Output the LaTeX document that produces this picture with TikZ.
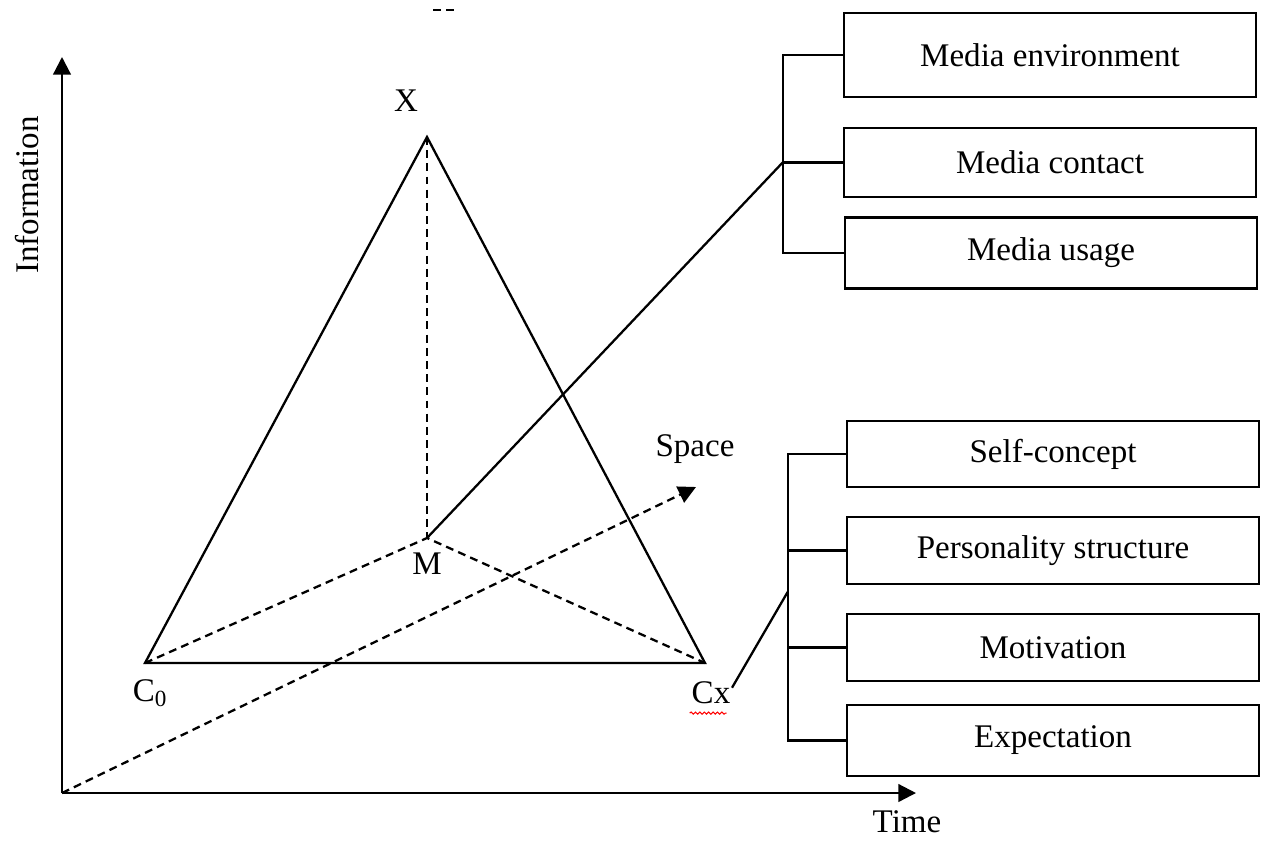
\documentclass[tikz,border=0pt]{standalone}
\usepackage{fontspec}
\setmainfont{Liberation Serif}
\usetikzlibrary{arrows.meta,decorations.pathmorphing}

\begin{document}
\begin{tikzpicture}[x=0.02cm, y=-0.02cm, line width=1.3pt,
    font=\fontsize{18.8}{22}\selectfont,
    box/.style={draw, minimum width=8.25cm, inner sep=0pt},
    axis/.style={-{Triangle[length=10pt,width=10pt]}},
    hidden/.style={dash pattern=on 4.5pt off 3pt}]
    \useasboundingbox (0,0) rectangle (1265,840);

    % Axes
    \coordinate (O) at (62,793);
    \coordinate (ytop) at (62,57);
    \coordinate (xend) at (916,793);
    \coordinate (zend) at (696,487);
    \draw[axis] (O) -- (ytop);
    \draw[axis] (O) -- (xend);
    \draw[axis, hidden] (O) -- (zend);
    \node[rotate=90] (info) at (27,195) {Information};
    \node (time) at (907,822) {Time};
    \node (space) at (695,449) {Space};
    \draw[hidden] (433,10) -- (458,10);

    % Triangle
    \coordinate (X) at (427,137);
    \coordinate (C0) at (145,663);
    \coordinate (Cx) at (705,663);
    \coordinate (M) at (427,538);
    \draw (C0) -- (X) -- (Cx) -- cycle;
    \draw[hidden] (X) -- (M);
    \draw[hidden] (C0) -- (M) -- (Cx);
    \node (xlab) at (406,101) {X};
    \node (mlab) at (427,564) {M};
    \node (c0lab) at (150,693) {C\textsubscript{0}};
    \node (cxlab) at (711,693) {Cx};
    \draw[red, line width=0.6pt, decoration={snake, amplitude=0.6pt, segment length=2.5pt}, decorate]
        (cxlab.south west) ++(5,2) -- ++(37,0);

    % Media boxes
    \node[box, minimum height=1.68cm] (env) at (1050,55) {Media environment};
    \node[box, minimum height=1.38cm] (contact) at (1050,162.5) {Media contact};
    \node[box, minimum height=1.42cm] (usage) at (1051,253) {Media usage};
    \draw (env.west) -- ++(-60,0) coordinate (topbar) |- (usage.west);
    \draw (contact.west) -- (contact.west -| topbar);
    \draw (M) -- (contact.west -| topbar);

    % Person boxes
    \node[box, minimum height=1.32cm] (self) at (1053,454) {Self-concept};
    \node[box, minimum height=1.34cm] (person) at (1053,550.5) {Personality structure};
    \node[box, minimum height=1.34cm] (motiv) at (1053,647.5) {Motivation};
    \node[box, minimum height=1.42cm] (expect) at (1053,740.5) {Expectation};
    \draw (self.west) -- ++(-58,0) coordinate (botbar) |- (expect.west);
    \draw (person.west) -- (person.west -| botbar);
    \draw (motiv.west) -- (motiv.west -| botbar);
    \coordinate (cxjoin) at (botbar |- 0,592);
    \draw ([xshift=-3pt,yshift=3pt]cxlab.east) -- (cxjoin);
\end{tikzpicture}
\end{document}
